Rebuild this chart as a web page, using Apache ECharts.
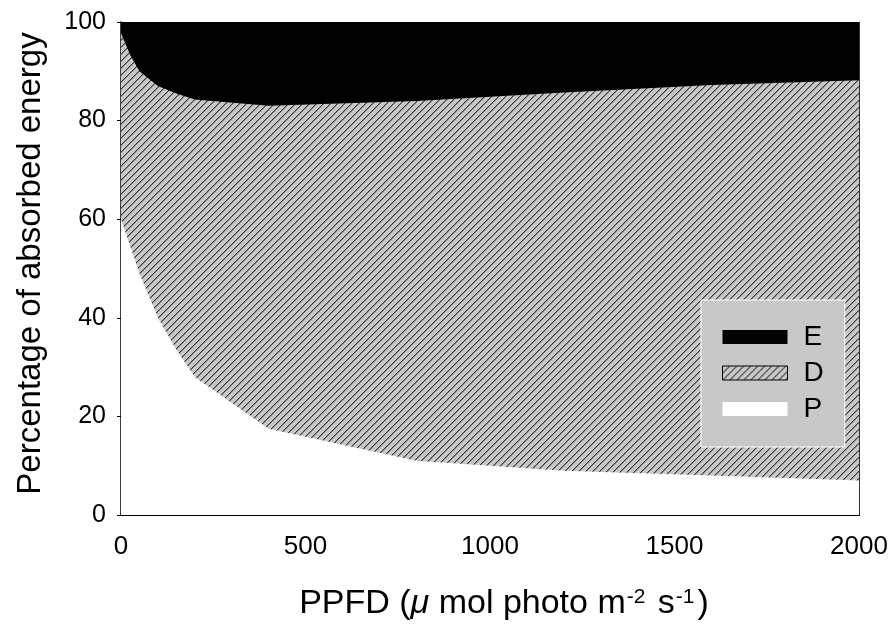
<!DOCTYPE html>
<html>
<head>
<meta charset="utf-8">
<script src="https://cdn.jsdelivr.net/npm/echarts@6/dist/echarts.min.js"></script>
<style>
html,body{margin:0;padding:0;background:#fff;}
#chart{width:894px;height:631px;}
</style>
</head>
<body>
<div id="chart"></div>
<script>
// PPFD values (x)
var ppfd = [0, 25, 50, 100, 150, 200, 400, 800, 1200, 1600, 2000];
// Percentage of absorbed energy: P (photochemistry), D (dissipation), E (excess)
var seriesP = [60, 54.5, 49, 40, 33.5, 28, 17.5, 11, 9, 8, 7];
var seriesD = [37.7, 38.8, 41, 47, 52, 56.3, 65.5, 73, 76.7, 79.2, 81.2];
var seriesE = [2.3, 6.7, 10, 13, 14.5, 15.7, 17, 16, 14.3, 12.8, 11.8];
var xTicks = [0, 500, 1000, 1500, 2000];
var yTicks = [0, 20, 40, 60, 80, 100];
var legendNames = ['E', 'D', 'P'];

// cumulative boundaries (stack built by hand, drawn back-to-front)
var cumP = seriesP.slice();
var cumPD = seriesP.map(function (v, i) { return v + seriesD[i]; });
var cumPDE = cumPD.map(function (v, i) { return v + seriesE[i]; });

function pairs(vals) {
  return ppfd.map(function (x, i) { return [x, vals[i]]; });
}

// hatch pattern
function makeHatch(bg) {
  var s = 7;
  var c = document.createElement('canvas');
  c.width = s; c.height = s;
  var ctx = c.getContext('2d');
  ctx.fillStyle = bg;
  ctx.fillRect(0, 0, s, s);
  for (var i = 0; i < s; i++) {
    ctx.fillStyle = '#3a3a3a';
    ctx.fillRect(i, s - 1 - i, 1, 1);
    ctx.fillStyle = '#8a8a8a';
    ctx.fillRect(i, (s - i) % s, 1, 1);
  }
  return c;
}
var hatch = { image: makeHatch('#c8c8c8'), repeat: 'repeat' };

var font = '"Liberation Sans", Arial, sans-serif';
var chart = echarts.init(document.getElementById('chart'), null, { renderer: 'canvas' });

function areaSeries(name, vals, fill) {
  return {
    name: name,
    type: 'line',
    xAxisIndex: 0,
    yAxisIndex: 0,
    data: pairs(vals),
    showSymbol: false,
    symbol: 'none',
    lineStyle: { width: 0, opacity: 0 },
    itemStyle: { color: fill },
    areaStyle: { color: fill, opacity: 1, origin: 'start' },
    emphasis: { disabled: true },
    silent: true,
    z: 2
  };
}

var option = {
  animation: false,
  backgroundColor: '#ffffff',
  textStyle: { fontFamily: font, color: '#000' },
  grid: { left: 121, right: 35, top: 22, bottom: 116, containLabel: false },
  legend: {
    orient: 'vertical',
    left: 701,
    top: 300,
    backgroundColor: '#c8c8c8',
    borderColor: '#ffffff',
    borderWidth: 1,
    padding: [23, 21, 24, 21],
    itemGap: 8,
    itemWidth: 65,
    itemHeight: 14,
    icon: 'rect',
    selectedMode: false,
    textStyle: { fontFamily: font, fontSize: 28, color: '#000', lineHeight: 28, padding: [0, 0, 0, 11] },
    data: [
      { name: legendNames[0], itemStyle: { color: '#000000', borderWidth: 0 } },
      { name: legendNames[1], itemStyle: { color: hatch, borderColor: '#000', borderWidth: 1 } },
      { name: legendNames[2], itemStyle: { color: '#ffffff', borderWidth: 0 } }
    ]
  },
  xAxis: [{
    type: 'value',
    min: xTicks[0],
    max: xTicks[xTicks.length - 1],
    interval: 500,
    position: 'bottom',
    name: 'PPFD ({mu|\u03bc} mol photo m{sup|-2} s{sup|-1})',
    nameLocation: 'middle',
    nameGap: 72,
    nameTextStyle: {
      fontFamily: font, fontSize: 34, color: '#000', lineHeight: 34,
      padding: [0, 0, 0, 28],
      rich: {
        mu: { fontFamily: font, fontSize: 34, fontStyle: 'italic', color: '#000', lineHeight: 34 },
        sup: { fontFamily: font, fontSize: 21, color: '#000', lineHeight: 10, verticalAlign: 'top', padding: [0, 3, 0, 1] }
      }
    },
    axisLine: { show: true, onZero: false, lineStyle: { color: '#000', width: 2 } },
    axisTick: { show: false },
    splitLine: { show: false },
    axisLabel: {
      fontFamily: font, fontSize: 26, color: '#000', margin: 19,
      formatter: function (v) { return String(v); }
    }
  }, {
    type: 'value',
    min: 0, max: 2000, interval: 500,
    position: 'top',
    axisLine: { show: true, onZero: false, lineStyle: { color: '#999', width: 1 } },
    axisTick: { show: false },
    axisLabel: { show: false },
    splitLine: { show: false }
  }],
  yAxis: [{
    type: 'value',
    min: yTicks[0],
    max: yTicks[yTicks.length - 1],
    interval: 20,
    position: 'left',
    name: 'Percentage of absorbed energy',
    nameLocation: 'middle',
    nameGap: 74,
    nameRotate: 90,
    nameTextStyle: { fontFamily: font, fontSize: 33, color: '#000', padding: [0, 0, 0, 10] },
    axisLine: { show: true, onZero: false, lineStyle: { color: '#000', width: 1.5 } },
    axisTick: { show: true, inside: false, length: 4, lineStyle: { color: '#000', width: 1 } },
    splitLine: { show: false },
    axisLabel: {
      fontFamily: font, fontSize: 25, color: '#000', margin: 15,
      formatter: function (v) { return String(v); }
    }
  }, {
    type: 'value',
    min: 0, max: 100, interval: 20,
    position: 'right',
    axisLine: { show: true, onZero: false, lineStyle: { color: '#333', width: 1 } },
    axisTick: { show: false },
    axisLabel: { show: false },
    splitLine: { show: false }
  }],
  series: [
    areaSeries('E', cumPDE, '#000000'),
    areaSeries('D', cumPD, hatch),
    areaSeries('P', cumP, '#ffffff')
  ]
};
chart.setOption(option);
</script>
</body>
</html>
